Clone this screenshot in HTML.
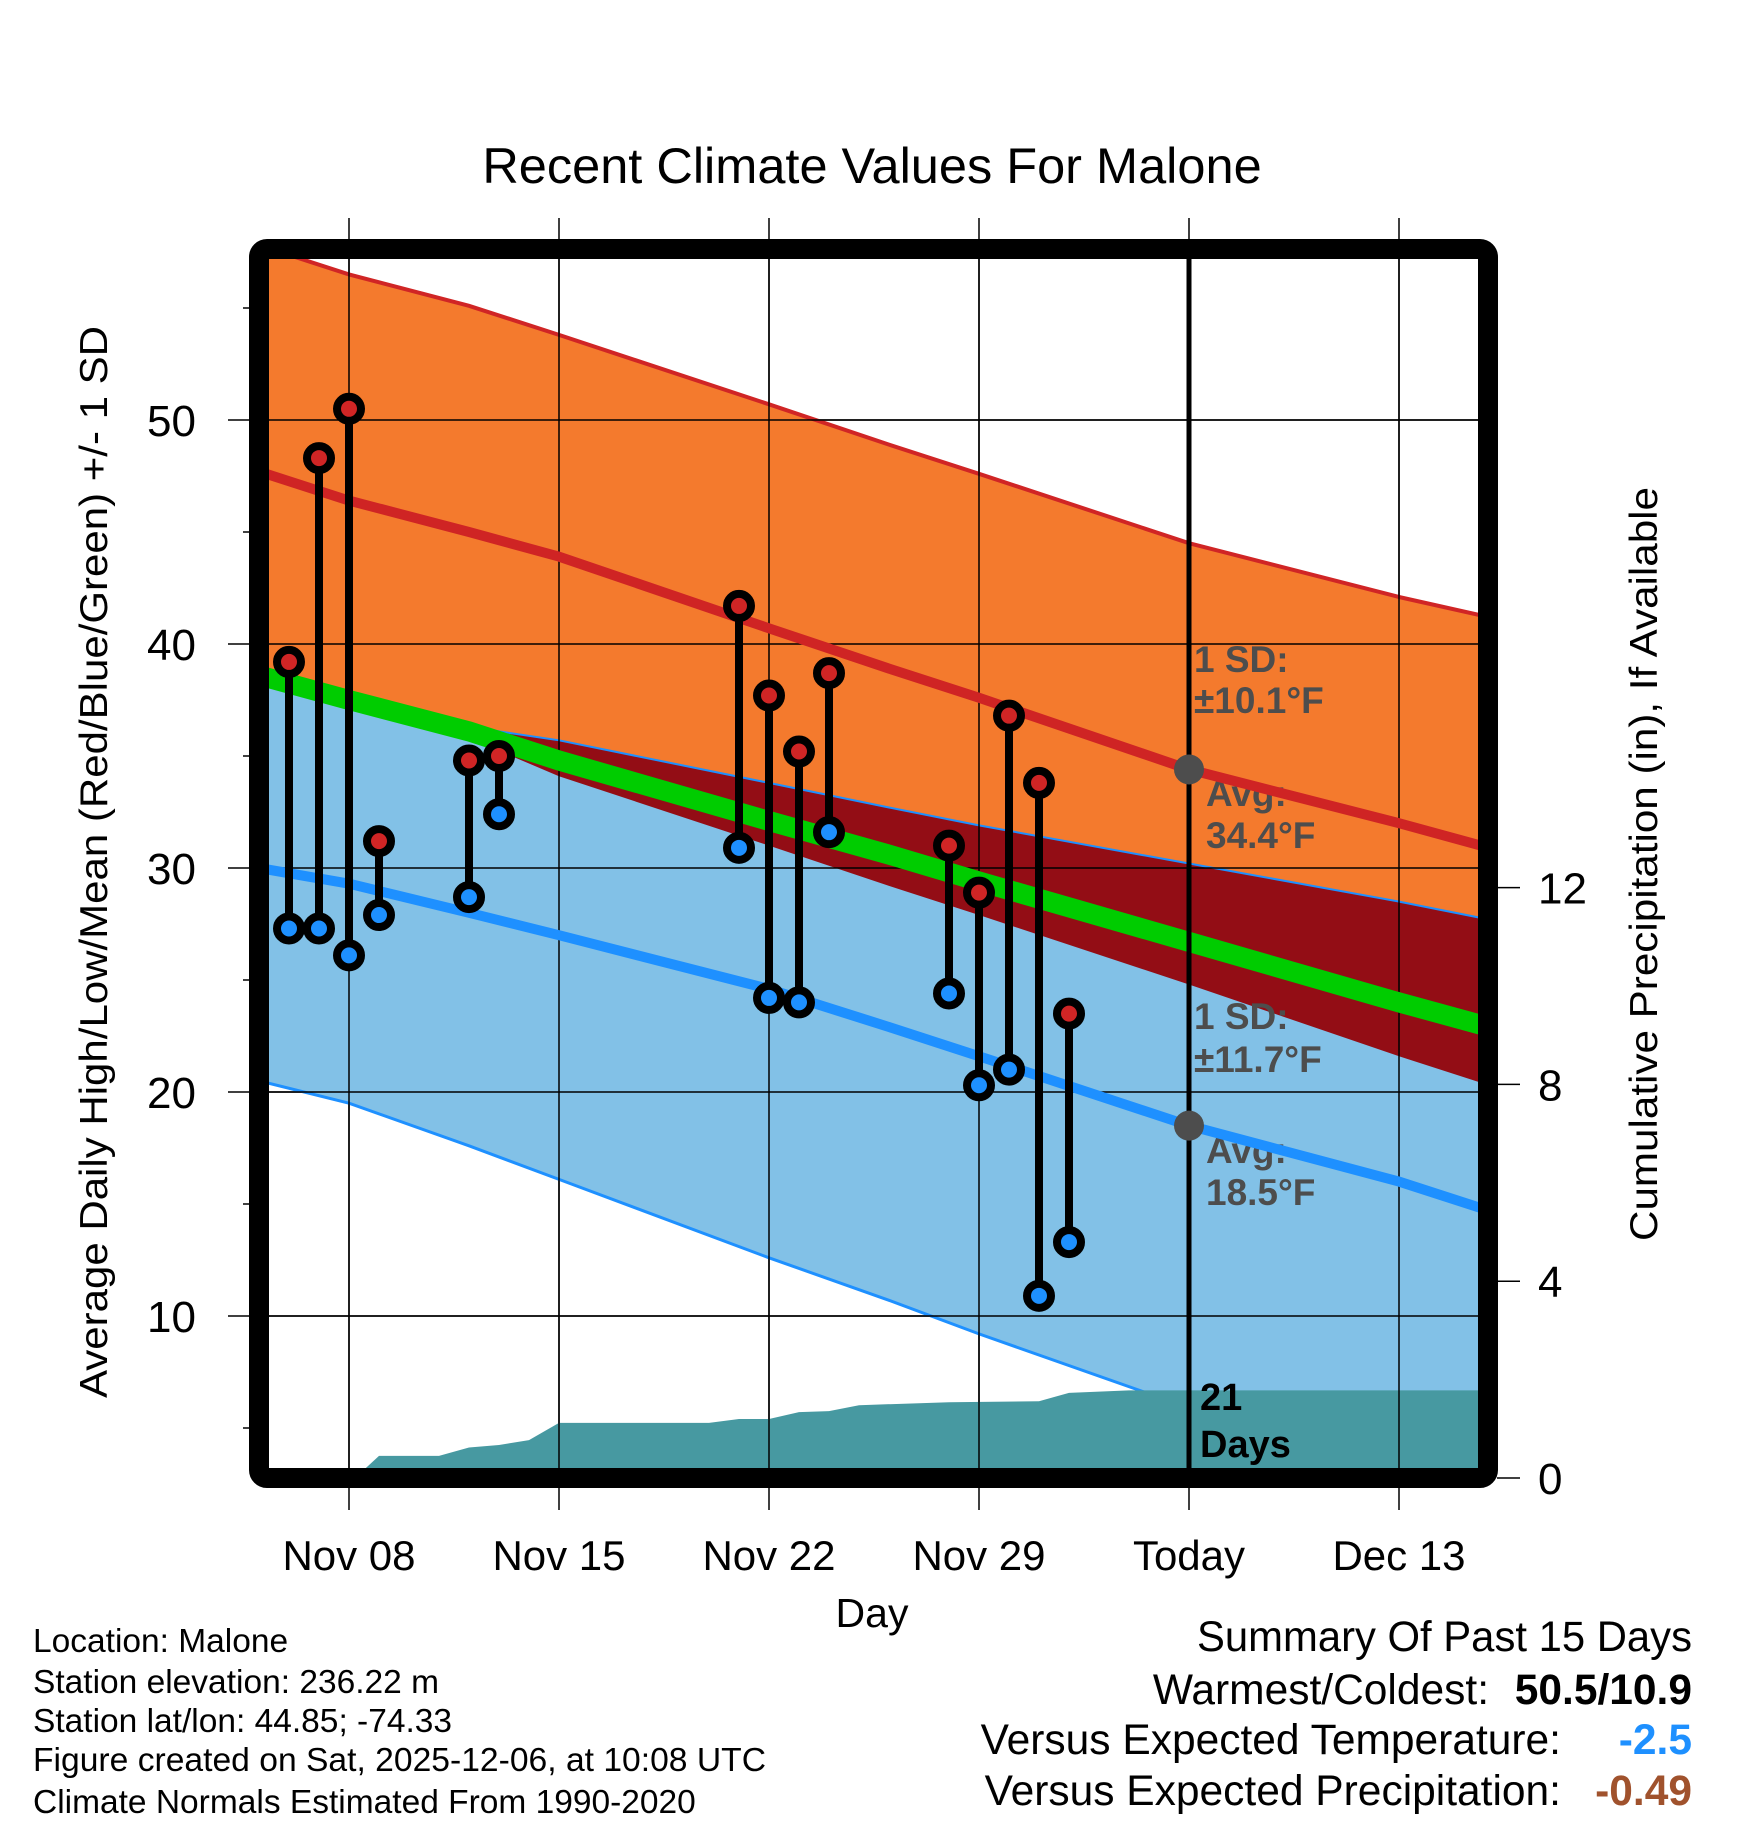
<!DOCTYPE html>
<html><head><meta charset="utf-8"><style>
html,body{margin:0;padding:0;background:#fff;}
svg{display:block;font-family:"Liberation Sans",Arial,sans-serif;}
</style></head><body>
<svg id="chart" width="1748" height="1828" viewBox="0 0 1748 1828" xmlns="http://www.w3.org/2000/svg">
<defs><clipPath id="plotclip"><rect x="269" y="259" width="1209" height="1209"/></clipPath></defs>
<text x="872" y="183" font-size="50.5" text-anchor="middle">Recent Climate Values For Malone</text>
<g id="gridlayer"></g>
<g id="plot" clip-path="url(#plotclip)"></g>
<g id="frame"></g>
<g id="axes"></g>
<text x="872" y="1627" font-size="41" text-anchor="middle">Day</text>
<text transform="translate(107,862) rotate(-90)" font-size="39" text-anchor="middle" textLength="1072" lengthAdjust="spacingAndGlyphs">Average Daily High/Low/Mean (Red/Blue/Green) +/- 1 SD</text>
<text transform="translate(1657,864) rotate(-90)" font-size="39" text-anchor="middle" textLength="754" lengthAdjust="spacingAndGlyphs">Cumulative Precipitation (in), If Available</text>
<g font-size="33.5">
<text x="33" y="1652">Location: Malone</text>
<text x="33" y="1693">Station elevation: 236.22 m</text>
<text x="33" y="1732">Station lat/lon: 44.85; -74.33</text>
<text x="33" y="1771" textLength="733" lengthAdjust="spacingAndGlyphs">Figure created on Sat, 2025-12-06, at 10:08 UTC</text>
<text x="33" y="1813">Climate Normals Estimated From 1990-2020</text>
</g>
<g font-size="42.5">
<text x="1692" y="1651" text-anchor="end" textLength="495" lengthAdjust="spacingAndGlyphs">Summary Of Past 15 Days</text>
<text x="1489" y="1704" text-anchor="end">Warmest/Coldest:</text>
<text x="1692" y="1704" text-anchor="end" font-weight="bold">50.5/10.9</text>
<text x="1561" y="1754" text-anchor="end">Versus Expected Temperature:</text>
<text x="1692" y="1754" text-anchor="end" font-weight="bold" fill="#1e90ff">-2.5</text>
<text x="1561" y="1805" text-anchor="end">Versus Expected Precipitation:</text>
<text x="1692" y="1805" text-anchor="end" font-weight="bold" fill="#a0522d">-0.49</text>
</g>
</svg>
<script>
// ---- data ----
const normDays = [0, 3, 7, 10, 17, 21, 24, 31, 38, 41];
const highTop = [57.8, 56.5, 55.1, 53.8, 50.7, 48.9, 47.6, 44.5, 42.1, 41.2];
const highAvg = [47.7, 46.4, 45.0, 43.9, 40.7, 38.9, 37.6, 34.4, 32.0, 30.9];
const highBottom = [38.6, 37.5, 35.8, 34.1, 31.0, 29.2, 27.9, 24.8, 21.6, 20.3];
const lowTop = [38.6, 37.5, 36.3, 35.7, 33.8, 32.7, 31.9, 30.2, 28.5, 27.7];
const lowAvg = [30.0, 29.3, 28.0, 27.0, 24.6, 22.9, 21.6, 18.5, 16.0, 14.7];
const lowBottom = [20.5, 19.5, 17.6, 16.1, 12.6, 10.7, 9.2, 5.9, 3.0, 2.0];
const meanAvg = [38.6, 37.5, 36.1, 34.8, 32.1, 30.6, 29.4, 26.7, 24.0, 22.9];
const obsDays = [1, 2, 3, 4, 7, 8, 16, 17, 18, 19, 23, 24, 25, 26, 27];
const obsHigh = [39.2, 48.3, 50.5, 31.2, 34.8, 35.0, 41.7, 37.7, 35.2, 38.7, 31.0, 28.9, 36.8, 33.8, 23.5];
const obsLow = [27.3, 27.3, 26.1, 27.9, 28.7, 32.4, 30.9, 24.2, 24.0, 31.6, 24.4, 20.3, 21.0, 10.9, 13.3];
const precipDays = [3, 3.2, 4, 6, 7, 8, 9, 10, 15, 16, 17, 18, 19, 20, 23, 26, 27, 29, 41];
const precipCum = [0, 0, 0.45, 0.45, 0.62, 0.67, 0.77, 1.12, 1.12, 1.2, 1.2, 1.34, 1.36, 1.48, 1.54, 1.56, 1.73, 1.78, 1.78];
const xTickDays = [3, 10, 17, 24, 31, 38];
const xTickLabels = ["Nov 08", "Nov 15", "Nov 22", "Nov 29", "Today", "Dec 13"];
const yTicks = [10, 20, 30, 40, 50];
const yMinorTicks = [5, 15, 25, 35, 45, 55];
const pTicks = [0, 4, 8, 12];
const todayDay = 31;

// ---- scales ----
const X0 = 259, PX_DAY = 30;
const xs = d => X0 + d * PX_DAY;
const ys = t => 420 + (50 - t) * 22.4;
const yp = p => 1478 - p * 49.2;
const NS = "http://www.w3.org/2000/svg";
function mk(tag, attrs, parent) {
  const e = document.createElementNS(NS, tag);
  for (const k in attrs) e.setAttribute(k, attrs[k]);
  parent.appendChild(e);
  return e;
}
function pts(days, vals, f) { return days.map((d, i) => xs(d).toFixed(1) + "," + f(vals[i]).toFixed(1)); }
function band(days, top, bot, f) {
  return pts(days, top, f).concat(pts(days, bot, f).reverse()).join(" ");
}

const grid = document.getElementById("gridlayer");
const plot = document.getElementById("plot");
const frame = document.getElementById("frame");
const axes = document.getElementById("axes");

let e;
e = mk("polygon", {points: band(normDays, highTop, highBottom, ys), fill: "#f47a2d"}, plot);


e = mk("polygon", {points: band(normDays, lowTop, lowBottom, ys), fill: "#82c1e7"}, plot);


const ovTop = lowTop.map((v, i) => Math.max(v, highBottom[i]));
e = mk("polygon", {points: band(normDays, ovTop, highBottom, ys), fill: "#930d15"}, plot);


e = mk("polyline", {points: pts(normDays, highTop, ys).join(" "), fill: "none", stroke: "#d02525", "stroke-width": 4}, plot);


e = mk("polyline", {points: pts(normDays, lowTop, ys).join(" "), fill: "none", stroke: "#1e90ff", "stroke-width": 2}, plot);


e = mk("polyline", {points: pts(normDays, lowBottom, ys).join(" "), fill: "none", stroke: "#1e90ff", "stroke-width": 3}, plot);



const pp = pts(precipDays, precipCum, yp);
pp.push(xs(41).toFixed(1) + "," + yp(0));
pp.push(xs(precipDays[0]).toFixed(1) + "," + yp(0));
e = mk("polygon", {points: pp.join(" "), fill: "#4799a1"}, plot);



yTicks.forEach(t => {
  e = mk("line", {x1: 228, x2: 1488, y1: ys(t), y2: ys(t), stroke: "#000", "stroke-width": 1.5}, grid);
  
  
});
xTickDays.forEach(d => {
  e = mk("line", {x1: xs(d), x2: xs(d), y1: 218, y2: 1510, stroke: "#000", "stroke-width": 1.5}, grid);
  
  
});
const gridTop = mk("g", {}, plot);


yTicks.forEach(t => {
  e = mk("line", {x1: 259, x2: 1488, y1: ys(t), y2: ys(t), stroke: "#000", "stroke-width": 1.5}, gridTop);
  
  
});
xTickDays.forEach(d => {
  e = mk("line", {x1: xs(d), x2: xs(d), y1: 249, y2: 1478, stroke: "#000", "stroke-width": 1.5}, gridTop);
  
  
});

const labels = [["1 SD:", 1194, 672], ["±10.1°F", 1194, 713], ["Avg:", 1206, 806], ["34.4°F", 1206, 848],
                ["1 SD:", 1194, 1029], ["±11.7°F", 1194, 1072], ["Avg:", 1206, 1163], ["18.5°F", 1206, 1205]];
labels.forEach(l => {
  e = mk("text", {x: l[1], y: l[2], "font-size": 37, "font-weight": "bold", fill: "#4d4d4d"}, plot);
  e.textContent = l[0];
  
  
});

e = mk("polyline", {points: pts(normDays, meanAvg, ys).join(" "), fill: "none", stroke: "#00cc00", "stroke-width": 20}, plot);


e = mk("polyline", {points: pts(normDays, highAvg, ys).join(" "), fill: "none", stroke: "#cf2424", "stroke-width": 10}, plot);


e = mk("polyline", {points: pts(normDays, lowAvg, ys).join(" "), fill: "none", stroke: "#1e90ff", "stroke-width": 10}, plot);



e = mk("line", {x1: xs(todayDay), x2: xs(todayDay), y1: 249, y2: 1478, stroke: "#000", "stroke-width": 5}, plot);


const hiToday = 34.4, loToday = 18.5;
e = mk("circle", {cx: xs(todayDay), cy: ys(hiToday), r: 15, fill: "#4d4d4d"}, plot);


e = mk("circle", {cx: xs(todayDay), cy: ys(loToday), r: 15, fill: "#4d4d4d"}, plot);



e = mk("text", {x: 1200, y: 1410, "font-size": 38, "font-weight": "bold", fill: "#000"}, plot);
e.textContent = "21";


e = mk("text", {x: 1200, y: 1457, "font-size": 38, "font-weight": "bold", fill: "#000"}, plot);
e.textContent = "Days";



obsDays.forEach((d, i) => {
  const x = xs(d);
  e = mk("line", {x1: x, x2: x, y1: ys(obsHigh[i]), y2: ys(obsLow[i]), stroke: "#000", "stroke-width": 8}, plot);
  
  
  e = mk("circle", {cx: x, cy: ys(obsHigh[i]), r: 12, fill: "#d02525", stroke: "#000", "stroke-width": 8}, plot);
  
  
  e = mk("circle", {cx: x, cy: ys(obsLow[i]), r: 12, fill: "#1e90ff", stroke: "#000", "stroke-width": 8}, plot);
  
  
});

e = mk("rect", {x: 259, y: 249, width: 1229, height: 1229, rx: 8, fill: "none", stroke: "#000", "stroke-width": 20}, frame);



yTicks.forEach(t => {
  e = mk("text", {x: 196, y: ys(t) + 16, "font-size": 44, "text-anchor": "end"}, axes);
  e.textContent = t;
  
  
});
yMinorTicks.forEach(t => {
  e = mk("line", {x1: 243, x2: 250, y1: ys(t), y2: ys(t), stroke: "#000", "stroke-width": 1.5}, axes);
  
  
});
xTickDays.forEach((d, i) => {
  e = mk("text", {x: xs(d), y: 1570, "font-size": 42, "text-anchor": "middle"}, axes);
  e.textContent = xTickLabels[i];
  
  
});
pTicks.forEach(p => {
  e = mk("line", {x1: 1497, x2: 1520, y1: yp(p), y2: yp(p), stroke: "#000", "stroke-width": 1.5}, axes);
  
  
  e = mk("text", {x: 1538, y: yp(p) + 16, "font-size": 44}, axes);
  e.textContent = p;
  
  
});
</script>
</body></html>
